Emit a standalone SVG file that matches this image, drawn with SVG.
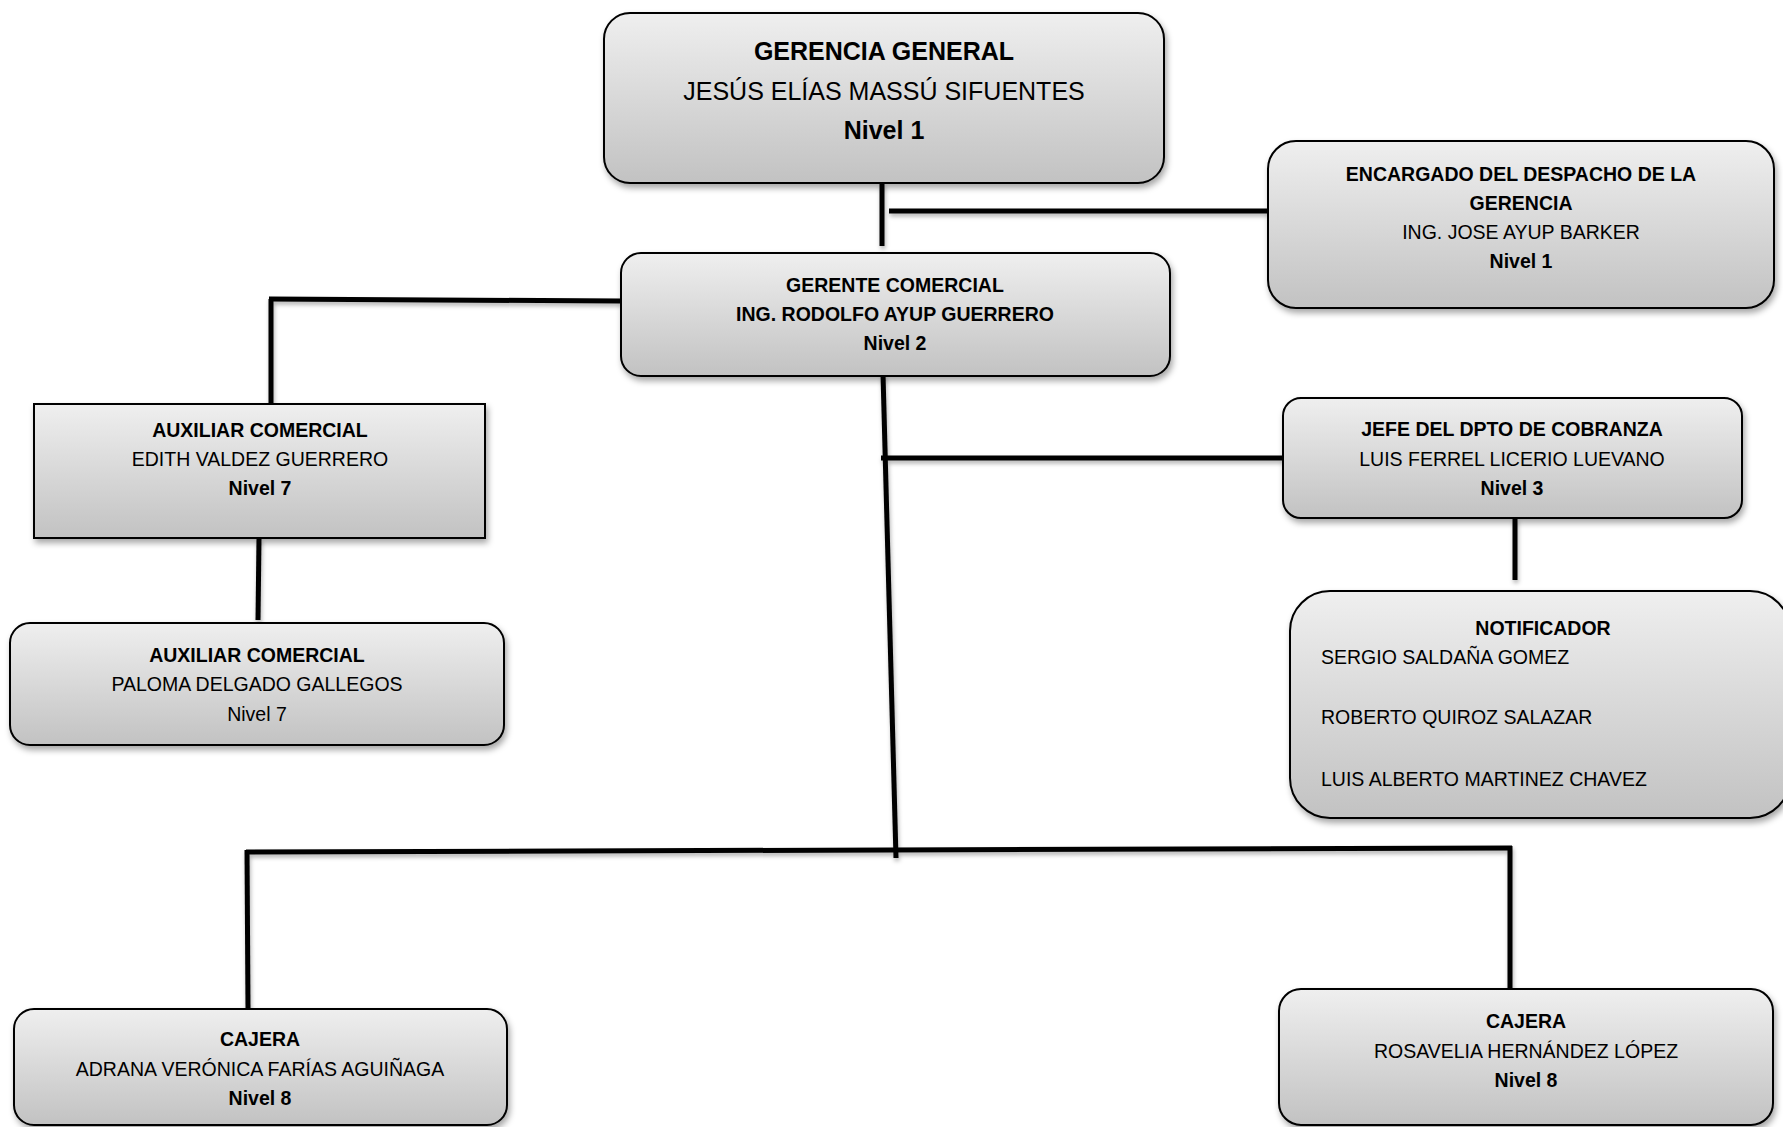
<svg xmlns="http://www.w3.org/2000/svg" width="1783" height="1127" viewBox="0 0 1783 1127">
<defs>
<linearGradient id="g" x1="0" y1="0" x2="0" y2="1">
<stop offset="0" stop-color="#efefef"/>
<stop offset="1" stop-color="#c2c2c2"/>
</linearGradient>
<filter id="sh" x="-10%" y="-10%" width="120%" height="130%">
<feDropShadow dx="2" dy="4" stdDeviation="3" flood-color="#000" flood-opacity="0.35"/>
</filter>
<filter id="lsh" filterUnits="userSpaceOnUse" x="0" y="0" width="1783" height="1127">
<feDropShadow dx="1" dy="3" stdDeviation="2" flood-color="#000" flood-opacity="0.3"/>
</filter>
</defs>
<style>
.box{fill:url(#g);stroke:#000;stroke-width:2;filter:url(#sh)}
text{font-family:"Liberation Sans",Arial,sans-serif;fill:#000;font-size:19.5px;text-anchor:middle}
.b{font-weight:bold}
.big{font-size:25px}
.l{text-anchor:start}
.c{stroke:#000;stroke-width:5;fill:none;stroke-linecap:butt}
</style>
<rect width="1783" height="1127" fill="#fff"/>
<g id="connectors" filter="url(#lsh)">
<line class="c" x1="882" y1="183" x2="882" y2="246"/>
<line class="c" x1="889" y1="211" x2="1268" y2="211"/>
<line class="c" x1="621" y1="301" x2="269" y2="299"/>
<line class="c" x1="271" y1="299" x2="271" y2="404"/>
<line class="c" x1="259" y1="538" x2="258" y2="620"/>
<line class="c" x1="883" y1="374" x2="896" y2="858"/>
<line class="c" x1="881" y1="458" x2="1283" y2="458"/>
<line class="c" x1="1515" y1="518" x2="1515" y2="580"/>
<line class="c" x1="246" y1="852" x2="1512" y2="848"/>
<line class="c" x1="247" y1="850" x2="248" y2="1009"/>
<line class="c" x1="1510" y1="846" x2="1510" y2="989"/>
</g>
<g id="gerencia-general">
<rect class="box" x="604" y="13" width="560" height="170" rx="26"/>
<text class="b big" x="884" y="60">GERENCIA GENERAL</text>
<text class="big" x="884" y="100">JESÚS ELÍAS MASSÚ SIFUENTES</text>
<text class="b big" x="884" y="139">Nivel 1</text>
</g>
<g id="encargado">
<rect class="box" x="1268" y="141" width="506" height="167" rx="28"/>
<text class="b" x="1521" y="181">ENCARGADO DEL DESPACHO DE LA</text>
<text class="b" x="1521" y="210">GERENCIA</text>
<text x="1521" y="239">ING. JOSE AYUP BARKER</text>
<text class="b" x="1521" y="268">Nivel 1</text>
</g>
<g id="gerente-comercial">
<rect class="box" x="621" y="253" width="549" height="123" rx="20"/>
<text class="b" x="895" y="292">GERENTE COMERCIAL</text>
<text class="b" x="895" y="321">ING. RODOLFO AYUP GUERRERO</text>
<text class="b" x="895" y="350">Nivel 2</text>
</g>
<g id="auxiliar-1">
<rect class="box" x="34" y="404" width="451" height="134"/>
<text class="b" x="260" y="437">AUXILIAR COMERCIAL</text>
<text x="260" y="466">EDITH VALDEZ GUERRERO</text>
<text class="b" x="260" y="495">Nivel 7</text>
</g>
<g id="auxiliar-2">
<rect class="box" x="10" y="623" width="494" height="122" rx="20"/>
<text class="b" x="257" y="662">AUXILIAR COMERCIAL</text>
<text x="257" y="691">PALOMA DELGADO GALLEGOS</text>
<text x="257" y="721">Nivel 7</text>
</g>
<g id="jefe-cobranza">
<rect class="box" x="1283" y="398" width="459" height="120" rx="18"/>
<text class="b" x="1512" y="436">JEFE DEL DPTO DE COBRANZA</text>
<text x="1512" y="466">LUIS FERREL LICERIO LUEVANO</text>
<text class="b" x="1512" y="495">Nivel 3</text>
</g>
<g id="notificador">
<rect class="box" x="1290" y="591" width="500" height="227" rx="40"/>
<text class="b" x="1543" y="635">NOTIFICADOR</text>
<text class="l" x="1321" y="664">SERGIO SALDAÑA GOMEZ</text>
<text class="l" x="1321" y="724">ROBERTO QUIROZ SALAZAR</text>
<text class="l" x="1321" y="786">LUIS ALBERTO MARTINEZ CHAVEZ</text>
</g>
<g id="cajera-1">
<rect class="box" x="14" y="1009" width="493" height="116" rx="20"/>
<text class="b" x="260" y="1046">CAJERA</text>
<text x="260" y="1076">ADRANA VERÓNICA FARÍAS AGUIÑAGA</text>
<text class="b" x="260" y="1105">Nivel 8</text>
</g>
<g id="cajera-2">
<rect class="box" x="1279" y="989" width="494" height="136" rx="22"/>
<text class="b" x="1526" y="1028">CAJERA</text>
<text x="1526" y="1058">ROSAVELIA HERNÁNDEZ LÓPEZ</text>
<text class="b" x="1526" y="1087">Nivel 8</text>
</g>
</svg>
